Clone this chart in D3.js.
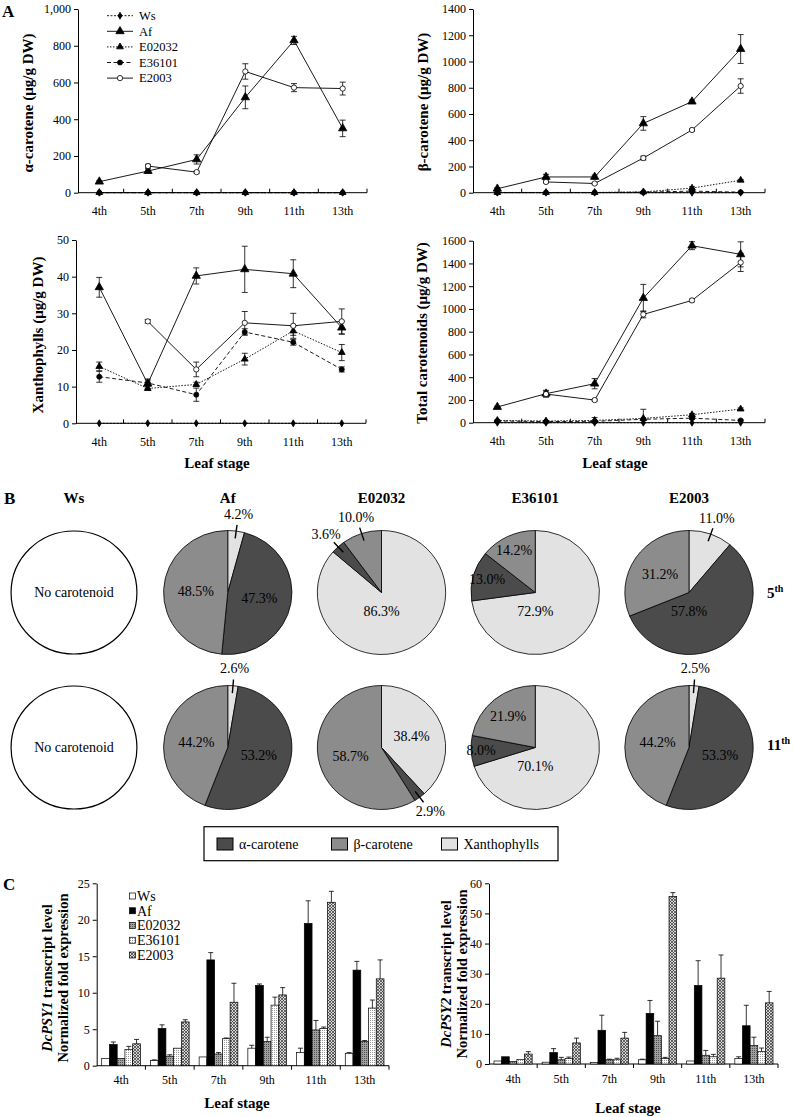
<!DOCTYPE html>
<html><head><meta charset="utf-8">
<script src="https://cdn.jsdelivr.net/npm/d3@7"></script>
<style>
body{margin:0;background:#fff;}
svg{display:block;font-family:"Liberation Serif","Times New Roman",serif;}
</style></head><body><svg id="fig" width="793" height="1117"></svg>
<script>
// ---------------- DATA ----------------
const categories = ["4th","5th","7th","9th","11th","13th"];
const genotypes = ["Ws","Af","E02032","E36101","E2003"];

// Panel A: means and SD, one row per genotype (order of `genotypes`)
const alphaMean = [
  [0,0,0,0,0,0],
  [60,118,181,519,829,350],
  [1,1,1,1,1,1],
  [0,0,0,0,0,0],
  [null,145,112,660,572,567]
];
const alphaErr = [
  [0,0,0,0,0,0],
  [5,12,25,62,22,45],
  [0,0,0,0,0,0],
  [0,0,0,0,0,0],
  [null,10,6,42,22,35]
];
const betaMean = [
  [0,0,0,0,0,0],
  [30,120,120,528,694,1095],
  [2,2,2,6,35,95],
  [1,1,1,4,12,4],
  [null,82,70,264,478,813]
];
const betaErr = [
  [0,0,0,0,0,0],
  [8,20,15,52,12,110],
  [0,0,0,3,10,6],
  [0,0,0,2,4,2],
  [null,8,6,15,8,55]
];
const xanthMean = [
  [0,0,0,0,0,0],
  [37.1,10.8,40.2,42.0,40.8,26.1],
  [15.5,9.5,10.6,17.5,25.2,19.3],
  [12.7,11.0,7.8,24.9,22.1,14.7],
  [null,27.8,14.7,27.4,26.6,27.8]
];
const xanthErr = [
  [0,0,0,0,0,0],
  [2.7,1.3,2.2,6.3,3.8,1.8],
  [1.2,0.5,0.6,1.6,1.2,2.2],
  [1.5,0.8,1.8,0.9,0.8,0.7],
  [null,0.5,2.0,3.1,3.4,3.4]
];
const totalMean = [
  [0,0,0,0,0,0],
  [138,255,343,1096,1556,1480],
  [20,15,20,38,70,120],
  [15,10,12,30,40,20],
  [null,252,199,952,1075,1409]
];
const totalErr = [
  [0,0,0,0,0,0],
  [8,30,45,120,35,110],
  [4,4,25,80,10,10],
  [3,3,4,10,10,5],
  [null,25,8,30,12,80]
];

// Panel B: composition (%) at the 5th and 11th leaf stage (Ws: none)
const xanth5  = [null, 4.2, 86.3, 72.9, 11.0];
const alpha5  = [null, 47.3, 3.6, 13.0, 57.8];
const beta5   = [null, 48.5, 10.0, 14.2, 31.2];
const xanth11 = [null, 2.6, 38.4, 70.1, 2.5];
const alpha11 = [null, 53.2, 2.9, 8.0, 53.3];
const beta11  = [null, 44.2, 58.7, 21.9, 44.2];
const pieComponents = ["α-carotene","β-carotene","Xanthophylls"];

// Panel C: normalized fold expression, one row per genotype
const psy1Mean = [
  [1.0,0.7,1.2,2.4,1.8,1.7],
  [2.9,5.1,14.5,11.0,19.5,13.1],
  [1.0,1.3,1.6,3.3,4.9,3.3],
  [2.2,2.4,3.7,8.3,5.1,7.9],
  [3.0,6.0,8.7,9.7,22.4,11.9]
];
const psy1Err = [
  [0,0.1,0,0.4,0.6,0.1],
  [0.35,0.5,1.0,0.2,3.1,1.2],
  [0,0.2,0.2,0.6,1.3,0.15],
  [0.45,0,0.1,1.1,0.2,1.1],
  [0.6,0.3,2.6,1.0,1.5,2.6]
];
const psy2Mean = [
  [1.0,0.6,0.5,1.4,1.0,1.8],
  [2.4,3.8,11.2,16.8,26.1,12.7],
  [0.8,1.4,1.4,9.4,2.9,6.1],
  [1.5,1.8,1.4,1.8,2.4,4.2],
  [3.3,7.0,8.6,55.6,28.5,20.3]
];
const psy2Err = [
  [0,0,0,0.2,0,0.6],
  [0,1.3,5.0,4.3,8.2,6.8],
  [0,0.8,0.2,4.8,1.6,2.8],
  [0,0.5,0.5,0.4,0.8,1.1],
  [0.8,1.6,1.9,1.3,7.7,3.8]
];

// ---------------- DRAWING ----------------
const svg = d3.select("#fig");
const FONT = '"Liberation Serif","Times New Roman",serif';

const lineStyle = {
  Ws:     {dash:"2,1.5", sym:d3.symbolDiamond,  size:14, fill:"#000"},
  Af:     {dash:null,    sym:d3.symbolTriangle, size:30, fill:"#000"},
  E02032: {dash:"1.5,1.5", sym:d3.symbolTriangle, size:20, fill:"#000"},
  E36101: {dash:"4,2.5", sym:d3.symbolCircle,   size:20, fill:"#000"},
  E2003:  {dash:null,    sym:d3.symbolCircle,   size:22, fill:"#fff"}
};

function styleAxis(sel, fs){
  sel.selectAll("text").attr("font-family",FONT).attr("font-size",fs).attr("fill","#000");
  sel.selectAll("line,path").attr("stroke","#000");
  sel.attr("font-family",FONT);
}

function linePanel(o){
  const g = svg.append("g");
  const x = d3.scaleBand().domain(categories).range([o.bandStart,o.xEnd]);
  const bw = x.bandwidth();
  const cx = c => x(c)+bw/2;
  const y = d3.scaleLinear().domain([0,o.max]).range([o.y0,o.yTop]);
  const ya = d3.axisLeft(y).tickValues(d3.range(0,o.max+1e-6,o.step))
    .tickSize(4).tickSizeOuter(0).tickPadding(3).tickFormat(o.fmt);
  const yg = g.append("g").attr("transform",`translate(${o.axisX},0)`).call(ya);
  styleAxis(yg,"12px");
  // x axis
  g.append("line").attr("x1",o.axisX).attr("x2",o.xEnd).attr("y1",o.y0).attr("y2",o.y0).attr("stroke","#000");
  categories.forEach(c=>{
    g.append("line").attr("x1",x(c)+bw).attr("x2",x(c)+bw).attr("y1",o.y0).attr("y2",o.y0-4).attr("stroke","#000");
    g.append("text").attr("x",cx(c)).attr("y",o.y0+18).attr("dy","0.35em").attr("text-anchor","middle")
      .attr("font-size","12px").text(c);
  });
  // title
  g.append("text").attr("transform",`translate(${o.titleX},${o.titleY}) rotate(-90)`)
    .attr("text-anchor","middle").attr("dy","0.35em").attr("font-weight","bold").attr("font-size","15px").text(o.title);
  if(o.leaf){
    g.append("text").attr("x",o.leafX).attr("y",o.leafY).attr("dy","0.35em").attr("text-anchor","middle")
      .attr("font-weight","bold").attr("font-size","15px").text("Leaf stage");
  }
  const line = d3.line().x(p=>cx(p.c)).y(p=>y(p.v));
  const series = genotypes.map((gn,i)=>({gn, pts: categories.map((c,j)=>({c, v:o.mean[i][j], e:o.err[i][j]})).filter(p=>p.v!=null)}));
  series.forEach(s=>{
    const st = lineStyle[s.gn];
    g.append("path").attr("d",line(s.pts)).attr("fill","none").attr("stroke","#000").attr("stroke-width",0.9)
      .attr("stroke-dasharray",st.dash);
  });
  series.forEach(s=>{
    s.pts.filter(p=>p.e>0).forEach(p=>{
      const lo = y(Math.max(0,p.v-p.e)), hi = y(p.v+p.e), X = cx(p.c);
      g.append("line").attr("x1",X).attr("x2",X).attr("y1",lo).attr("y2",hi).attr("stroke","#000").attr("stroke-width",0.8);
      [lo,hi].forEach(yy=>g.append("line").attr("x1",X-3).attr("x2",X+3).attr("y1",yy).attr("y2",yy).attr("stroke","#000").attr("stroke-width",0.8));
    });
  });
  series.forEach(s=>{
    const st = lineStyle[s.gn];
    s.pts.forEach(p=>{
      g.append("path").attr("d",d3.symbol().type(st.sym).size(st.size)())
        .attr("transform",`translate(${cx(p.c)},${y(p.v)})`)
        .attr("fill",st.fill).attr("stroke","#000").attr("stroke-width",0.8);
    });
  });
  if(o.legend){
    genotypes.forEach((gn,i)=>{
      const st = lineStyle[gn], yy = 15.7 + i*15.6;
      g.append("line").attr("x1",107).attr("x2",133).attr("y1",yy).attr("y2",yy).attr("stroke","#000").attr("stroke-width",0.9).attr("stroke-dasharray",st.dash);
      g.append("path").attr("d",d3.symbol().type(st.sym).size(st.size)()).attr("transform",`translate(120,${yy})`)
        .attr("fill",st.fill).attr("stroke","#000").attr("stroke-width",0.8);
      g.append("text").attr("x",139).attr("y",yy).attr("dy","0.35em").attr("font-size","12.5px").text(gn);
    });
  }
}

linePanel({bandStart:75,xEnd:367,axisX:78,y0:192.7,yTop:9,max:1000,step:200,fmt:d3.format(","),
  mean:alphaMean,err:alphaErr,title:"α-carotene (μg/g DW)",titleX:28,titleY:103,legend:true});
linePanel({bandStart:473,xEnd:765,axisX:473,y0:192.7,yTop:9,max:1400,step:200,fmt:d3.format("d"),
  mean:betaMean,err:betaErr,title:"β-carotene (μg/g DW)",titleX:423,titleY:102});
linePanel({bandStart:75,xEnd:366,axisX:76,y0:423.3,yTop:240,max:50,step:10,fmt:d3.format("d"),
  mean:xanthMean,err:xanthErr,title:"Xanthophylls (μg/g DW)",titleX:38,titleY:335,leaf:true,leafX:217,leafY:463});
linePanel({bandStart:473,xEnd:765,axisX:473,y0:422.7,yTop:240.7,max:1600,step:200,fmt:d3.format("d"),
  mean:totalMean,err:totalErr,title:"Total carotenoids (μg/g DW)",titleX:422,titleY:333,leaf:true,leafX:615,leafY:463});

// Panel letters
svg.append("text").attr("x",2).attr("y",17).attr("font-weight","bold").attr("font-size","17px").text("A");
svg.append("text").attr("x",4).attr("y",504).attr("font-weight","bold").attr("font-size","17px").text("B");
svg.append("text").attr("x",3).attr("y",890).attr("font-weight","bold").attr("font-size","17px").text("C");

// ---------------- Panel B: pies ----------------
const pieColor = {"α-carotene":"#4b4b4b","β-carotene":"#8c8c8c","Xanthophylls":"#e2e2e2"};
const pieX = d3.scalePoint().domain(genotypes).range([74,689]);
const R = 62, SX = 1.035;
const arc = d3.arc().innerRadius(0).outerRadius(R);
const pieGen = d3.pie().sort(null).value(d=>d.v);
const pieRows = [
  {sup:"5", y:592.5, xanth:xanth5, alpha:alpha5, beta:beta5, labelY:598},
  {sup:"11", y:747.5, xanth:xanth11, alpha:alpha11, beta:beta11, labelY:750}
];
genotypes.forEach(gn=>{
  svg.append("text").attr("x",pieX(gn)).attr("y",503).attr("text-anchor","middle")
    .attr("font-weight","bold").attr("font-size","15px").text(gn);
});
const pt = (a,r)=>[Math.sin(a)*r*SX, -Math.cos(a)*r];
pieRows.forEach(row=>{
  genotypes.forEach((gn,i)=>{
    const cxp = pieX(gn), g = svg.append("g").attr("transform",`translate(${cxp},${row.y})`);
    if(row.xanth[i]==null){
      g.append("ellipse").attr("rx",R*1.015).attr("ry",R-0.5).attr("fill","#fff").attr("stroke","#000").attr("stroke-width",1.2);
      g.append("text").attr("text-anchor","middle").attr("dy","0.35em").attr("font-size","14px").text("No carotenoid");
      return;
    }
    const parts = [
      {k:"Xanthophylls", v:row.xanth[i]},
      {k:"α-carotene", v:row.alpha[i]},
      {k:"β-carotene", v:row.beta[i]}
    ];
    const arcs = pieGen(parts);
    g.append("g").attr("transform",`scale(${SX},1)`).selectAll("path").data(arcs).join("path")
      .attr("d",arc).attr("fill",d=>pieColor[d.data.k]).attr("stroke","#000").attr("stroke-width",0.8)
      .attr("vector-effect","non-scaling-stroke");
    arcs.forEach(d=>{
      const f = d.data.v/100, mid = (d.startAngle+d.endAngle)/2;
      const txt = d.data.v.toFixed(1)+"%";
      const outside = f<0.05 || (f<0.12 && Math.abs(Math.sin(mid))<0.7);
      let lx, ly;
      if(outside){
        const a = pt(mid,R*0.88), b = pt(mid,R*1.1);
        g.append("line").attr("x1",a[0]).attr("y1",a[1]).attr("x2",b[0]).attr("y2",b[1]).attr("stroke","#000").attr("stroke-width",1.4);
        [lx,ly] = pt(mid,R*1.28);
      } else if(f>0.55 && mid>Math.PI/2 && mid<Math.PI){
        lx = 0; ly = R*0.3;
      } else {
        const fac = Math.max(0.5, 0.95-1.3*f);
        [lx,ly] = pt(mid,R*fac);
      }
      g.append("text").attr("x",lx).attr("y",ly).attr("dy","0.35em").attr("text-anchor","middle")
        .attr("font-size","14px").text(txt);
    });
  });
  const t = svg.append("text").attr("x",767).attr("y",row.labelY).attr("font-weight","bold").attr("font-size","15px");
  t.append("tspan").text(row.sup);
  t.append("tspan").attr("font-size","10px").attr("dy","-6").text("th");
});
// pie legend
{
  const lg = svg.append("g");
  lg.append("rect").attr("x",204).attr("y",826.7).attr("width",354).attr("height",34).attr("fill","#fff").attr("stroke","#000").attr("stroke-width",1.2);
  const lx = [217,331.5,441.5];
  pieComponents.forEach((k,i)=>{
    lg.append("rect").attr("x",lx[i]).attr("y",838).attr("width",16).attr("height",12).attr("fill",pieColor[k]).attr("stroke","#000").attr("stroke-width",1);
    lg.append("text").attr("x",lx[i]+22).attr("y",844).attr("dy","0.35em").attr("font-size","14px").text(k);
  });
}

// ---------------- Panel C: bars ----------------
const defs = svg.append("defs");
{
  const p1 = defs.append("pattern").attr("id","patE02032").attr("patternUnits","userSpaceOnUse").attr("width",2).attr("height",2);
  p1.append("rect").attr("width",2).attr("height",2).attr("fill","#a0a0a0");
  p1.append("rect").attr("width",1).attr("height",1).attr("fill","#505050");
  const p2 = defs.append("pattern").attr("id","patE36101").attr("patternUnits","userSpaceOnUse").attr("width",2).attr("height",2);
  p2.append("rect").attr("width",2).attr("height",2).attr("fill","#fff");
  p2.append("rect").attr("width",1).attr("height",1).attr("fill","#9a9a9a");
  const p3 = defs.append("pattern").attr("id","patE2003").attr("patternUnits","userSpaceOnUse").attr("width",3).attr("height",3);
  p3.append("rect").attr("width",3).attr("height",3).attr("fill","#d8d8d8");
  p3.append("path").attr("d","M0,0L3,3M3,0L0,3").attr("stroke","#303030").attr("stroke-width",0.7);
}
const barFill = {Ws:"#fff", Af:"#000", E02032:"url(#patE02032)", E36101:"url(#patE36101)", E2003:"url(#patE2003)"};

function barPanel(o){
  const g = svg.append("g");
  const x = d3.scaleBand().domain(categories).range([o.axisX,o.xEnd]);
  const bw = x.bandwidth();
  const x1 = d3.scaleBand().domain(genotypes).range([5,bw-5]);
  const y = d3.scaleLinear().domain([0,o.max]).range([o.y0,o.yTop]);
  const ya = d3.axisLeft(y).tickValues(d3.range(0,o.max+1e-6,o.step)).tickSize(4).tickSizeOuter(0).tickPadding(3);
  const yg = g.append("g").attr("transform",`translate(${o.axisX},0)`).call(ya);
  styleAxis(yg,"12px");
  g.append("line").attr("x1",o.axisX).attr("x2",o.xEnd).attr("y1",o.y0).attr("y2",o.y0).attr("stroke","#000");
  categories.forEach(c=>{
    g.append("line").attr("x1",x(c)+bw).attr("x2",x(c)+bw).attr("y1",o.y0).attr("y2",o.y0+4).attr("stroke","#000");
    g.append("text").attr("x",x(c)+bw/2).attr("y",o.y0+14.5).attr("dy","0.35em").attr("text-anchor","middle")
      .attr("font-size","12px").text(c);
  });
  genotypes.forEach((gn,i)=>{
    categories.forEach((c,j)=>{
      const v = o.mean[i][j], e = o.err[i][j];
      const bx = x(c)+x1(gn);
      g.append("rect").attr("x",bx).attr("y",y(v)).attr("width",x1.bandwidth()).attr("height",y(0)-y(v))
        .attr("fill",barFill[gn]).attr("stroke","#000").attr("stroke-width",0.7);
      if(e>0){
        const X = bx+x1.bandwidth()/2;
        g.append("line").attr("x1",X).attr("x2",X).attr("y1",y(v)).attr("y2",y(v+e)).attr("stroke","#000").attr("stroke-width",0.8);
        g.append("line").attr("x1",X-2.5).attr("x2",X+2.5).attr("y1",y(v+e)).attr("y2",y(v+e)).attr("stroke","#000").attr("stroke-width",0.8);
      }
    });
  });
  // y title (two lines)
  const t = g.append("text").attr("transform",`translate(${o.titleX},${o.titleY}) rotate(-90)`)
    .attr("text-anchor","middle").attr("font-weight","bold").attr("font-size","14.5px");
  t.append("tspan").attr("x",0).attr("dy","0.35em").attr("font-style","italic").text(o.gene);
  t.append("tspan").text(" transcript level");
  g.append("text").attr("transform",`translate(${o.titleX+16},${o.titleY}) rotate(-90)`)
    .attr("text-anchor","middle").attr("dy","0.35em").attr("font-weight","bold").attr("font-size","14.5px").text("Normalized fold expression");
  g.append("text").attr("x",o.leafX).attr("y",o.leafY).attr("dy","0.35em").attr("text-anchor","middle")
    .attr("font-weight","bold").attr("font-size","15px").text("Leaf stage");
  if(o.legend){
    genotypes.forEach((gn,i)=>{
      const yy = 896 + i*14.75;
      g.append("rect").attr("x",129.5).attr("y",yy-3).attr("width",6).attr("height",6)
        .attr("fill",barFill[gn]).attr("stroke","#000").attr("stroke-width",0.7);
      g.append("text").attr("x",137).attr("y",yy).attr("dy","0.35em").attr("font-size","14px").text(gn);
    });
  }
}
barPanel({axisX:96.7,xEnd:389,y0:1065.7,yTop:883.3,max:25,step:5,mean:psy1Mean,err:psy1Err,
  gene:"DcPSY1",titleX:47,titleY:978,leafX:237,leafY:1103,legend:true});
barPanel({axisX:489,xEnd:778,y0:1064,yTop:883.3,max:60,step:10,mean:psy2Mean,err:psy2Err,
  gene:"DcPSY2",titleX:446,titleY:974,leafX:628,leafY:1108});
</script></body></html>
